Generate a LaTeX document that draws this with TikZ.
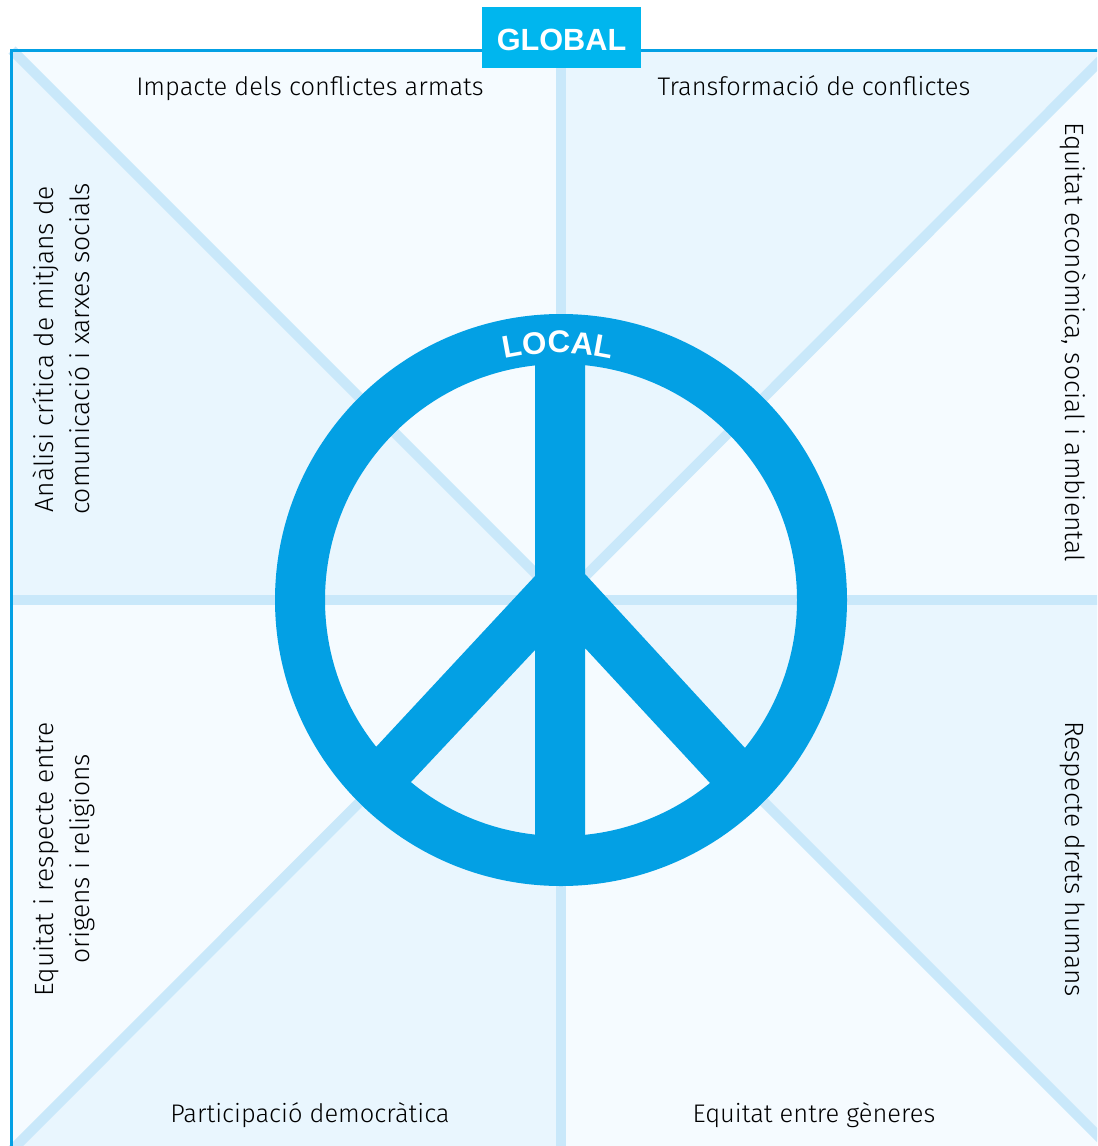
\documentclass[tikz,border=0pt]{standalone}
\usepackage{fontspec}
\setmainfont{Fira Sans Light}
\newfontfamily\boldsans{Liberation Sans Bold}
\usetikzlibrary{decorations.text}
\definecolor{peaceblue}{HTML}{03A0E4}
\definecolor{globalblue}{HTML}{00B6EE}
\definecolor{bandblue}{HTML}{C9E8FA}
\definecolor{palepanel}{HTML}{F5FBFF}
\definecolor{deeppanel}{HTML}{E9F6FE}
\tikzset{
  paneltext/.style={text=black,text height=14pt,text depth=4.5pt,inner sep=0pt,font=\fontsize{19.1}{27}\selectfont},
  sidetext/.style={text=black,align=center,inner sep=0pt,font=\fontsize{19.8}{27}\selectfont},
  band/.style={bandblue,line width=7.5pt},
  brandtext/.style={font=\boldsans\fontsize{23}{23}\selectfont}
}
\begin{document}
\begin{tikzpicture}[x=0.75pt,y=-0.75pt]
    \useasboundingbox (0,0) rectangle (1097,1146);
    \clip (0,0) rectangle (1097,1146);
    \coordinate (C) at (561,600);
    % Panels
    \fill[palepanel] (12,50) rectangle (1110,1150);
    \fill[deeppanel] (12,50) -- (C) -- (12,600) -- cycle;
    \fill[deeppanel] (561,50) -- (C) -- (1110,50) -- cycle;
    \fill[deeppanel] (C) -- (1110,600) -- (1110,1150) -- cycle;
    \fill[deeppanel] (C) -- (561,1150) -- (12,1150) -- cycle;
    % Bands
    \draw[band] (561,50) to (561,1150);
    \draw[band] (12,600) to (1110,600);
    \draw[band] (12,50) to (1110,1148);
    \draw[band] (12,1150) to (1111,50);
    % Frame
    \draw[peaceblue,line width=2.25pt] (1110,50.5) -- (11.5,50.5) -- (11.5,1150);
    % Peace sign
    \draw[peaceblue,line width=37.5pt] (C) circle (261);
    \fill[peaceblue] (535,350) -- (585,350) -- (585,574) -- (745,748) -- (770,780) -- (710,783) -- (585,648) -- (585,850) -- (535,850) -- (535,650) -- (411,782) -- (350,780) -- (376,747) -- (535,576) -- cycle;
    % Labels
    \node[paneltext] (armed) at (310,89) {Impacte dels conflictes armats};
    \node[paneltext] (transform) at (814,89) {Transformació de conflictes};
    \node[paneltext] (democracy) at (310,1116) {Participació democràtica};
    \node[paneltext] (gender) at (814,1116) {Equitat entre gèneres};
    \node[sidetext,rotate=90] (media) at (64.5,349) {\strut Anàlisi crítica de mitjans de\\\strut comunicació i xarxes socials};
    \node[sidetext,rotate=90] (origins) at (64.5,859) {\strut Equitat i respecte entre\\\strut origens i religions};
    \node[sidetext,rotate=-90] (equity) at (1073,342) {\strut Equitat econòmica, social i ambiental};
    \node[sidetext,rotate=-90] (rights) at (1073,859) {\strut Respecte drets humans};
    % Global and local
    \node[fill=globalblue,text=white,brandtext,text height=18.8pt,text depth=0pt,minimum width=119.25pt,minimum height=45.75pt,inner sep=0pt] (global) at (561.5,37.5) {GLOBAL};
    \path[decorate,decoration={text along path,text align=center,text={|\boldsans\fontsize{23.5}{23.5}\selectfont\color{white}|LOCAL}}]
      (558,600) ++(-110:247) arc[start angle=-110,end angle=-70,radius=247];
\end{tikzpicture}
\end{document}
